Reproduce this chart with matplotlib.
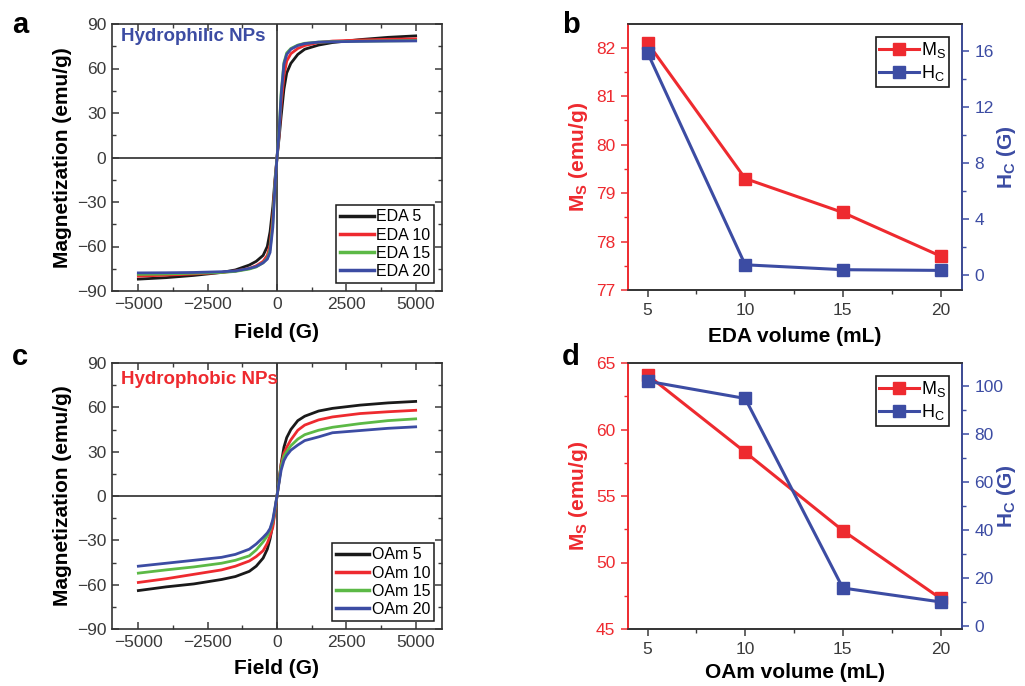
"""Magnetic hysteresis loops and Ms/Hc vs ligand volume (4-panel figure)."""
import matplotlib

matplotlib.use("Agg")
import matplotlib.pyplot as plt  # noqa: E402
from matplotlib.ticker import MultipleLocator  # noqa: E402

plt.rcParams.update({
    "font.family": ["Liberation Sans", "DejaVu Sans"],
    "mathtext.fontset": "custom",
    "mathtext.rm": "Liberation Sans",
    "mathtext.bf": "Liberation Sans:bold",
    "axes.linewidth": 1.2,
    "axes.edgecolor": "#333333",
})

_BLACK = "#1a1a1a"
_RED = "#ee2a2f"
_GREEN = "#5cb946"
_BLUE = "#3c4ca3"
_TICK = "#3a3a3a"

# ---- data: hysteresis loops (field in G, magnetization in emu/g) ----
field = [-5000, -4000, -3000, -2000, -1500, -1000, -750, -500, -350, -250,
         -150, -75, 0, 75, 150, 250, 350, 500, 750, 1000, 1500, 2000, 3000,
         4000, 5000]

eda_labels = ["EDA 5", "EDA 10", "EDA 15", "EDA 20"]
m_eda5 = [-82, -81, -79.5, -77.5, -75.8, -72.5, -70, -66, -60, -50, -33, -15,
          0, 13, 28, 46, 57, 63.5, 69.5, 73, 75.8, 77.5, 79.5, 81, 82]
m_eda10 = [-80, -79.3, -78.5, -77.5, -76.5, -74.8, -73, -70, -66, -59, -40,
           -17, 0, 15, 36, 55, 65, 70, 73.5, 75.5, 77.5, 78.5, 79.2, 79.7, 80]
m_eda15 = [-78.8, -78.5, -78, -77.5, -76.8, -75.2, -73.8, -71, -68, -62, -44,
           -18, 0, 18, 44, 64, 70.5, 73.5, 75.8, 77, 77.8, 78.1, 78.4, 78.6,
           78.8]
m_eda20 = [-77.8, -77.7, -77.5, -77, -76.5, -74.8, -73.5, -71, -68.5, -64,
           -47, -20, 0, 17, 42, 63, 69.5, 73, 75.5, 76.8, 77.8, 78, 78.3, 78.5,
           78.6]

oam_labels = ["OAm 5", "OAm 10", "OAm 15", "OAm 20"]
m_oam5 = [-64, -61.5, -59.5, -56.5, -54.5, -51, -47.5, -42, -36, -29, -19,
          -10, 0, 11, 22, 33, 39.5, 45, 51, 54, 57.5, 59.3, 61.5, 63, 64]
m_oam10 = [-58.5, -56, -53, -50, -47.5, -44, -41, -37, -32, -27, -21, -11, 0,
           10, 21.5, 29, 33, 38, 44.5, 48, 51.5, 53.5, 55.8, 57, 58]
m_oam15 = [-52.2, -50, -48, -45.5, -43.5, -40.5, -36.5, -31, -27, -23, -17,
           -9, 0, 10, 20, 27, 30, 34, 38.5, 41.5, 44.5, 46.5, 49, 51, 52.2]
m_oam20 = [-47.5, -45.5, -43.5, -41.5, -39.5, -36, -32.5, -28, -25, -22, -16,
           -8, 0, 9, 17.5, 24, 27.5, 31, 34.5, 37.5, 40, 42.8, 44.3, 45.8,
           46.8]

# ---- data: Ms / Hc vs volume ----
volume = [5, 10, 15, 20]
ms_eda = [82.1, 79.3, 78.6, 77.7]
hc_eda = [15.85, 0.7, 0.35, 0.3]
ms_oam = [64.1, 58.3, 52.4, 47.3]
hc_oam = [102, 94.8, 15.7, 9.9]

loop_colors = [_BLACK, _RED, _GREEN, _BLUE]

fig = plt.figure(figsize=(10.25, 6.86), dpi=100)
W, H = 1025, 686


def _box(left, top, right, bottom):
    return [left / W, 1 - bottom / H, (right - left) / W, (bottom - top) / H]


def _letter(x, y, s):
    # x = left edge, y = baseline, in pixels from top-left
    fig.text(x / W, 1 - y / H, s, fontsize=21, fontweight="bold",
             ha="left", va="baseline")


def _style_ticks(ax, direction="in", **kw):
    ax.tick_params(which="both", direction=direction, labelsize=12.5,
                   labelcolor=_TICK, color=_TICK, pad=4, **kw)
    ax.tick_params(which="major", length=5, width=1.1)
    ax.tick_params(which="minor", length=3, width=1.0)


def loop_panel(rect, curves, labels, title, title_color, xlabel_y, title_y):
    ax = fig.add_axes(_box(*rect))
    ax.axhline(0, color=_BLACK, lw=1.1, zorder=1)
    ax.axvline(0, color=_BLACK, lw=1.1, zorder=1)
    for m, lab, c in zip(curves, labels, loop_colors):
        ax.plot(field, m, color=c, lw=2.0, label=lab, zorder=2)
    ax.set_xlim(-5950, 5950)
    ax.set_ylim(-90, 90)
    ax.xaxis.set_major_locator(MultipleLocator(2500))
    ax.xaxis.set_minor_locator(MultipleLocator(1250))
    ax.yaxis.set_major_locator(MultipleLocator(30))
    ax.yaxis.set_minor_locator(MultipleLocator(15))
    ax.xaxis.set_major_formatter(lambda v, p: f"{v:.0f}".replace("-", "\u2212"))
    ax.yaxis.set_major_formatter(lambda v, p: f"{v:.0f}".replace("-", "\u2212"))
    _style_ticks(ax, top=True, right=True)
    ax.set_xlabel("Field (G)", fontsize=15, fontweight="bold")
    ax.set_ylabel("Magnetization (emu/g)", fontsize=15, fontweight="bold")
    ax.xaxis.set_label_coords(0.5, xlabel_y)
    ax.yaxis.set_label_coords(-0.121, 0.5)
    ax.text(0.026, title_y, title, transform=ax.transAxes, fontsize=13.5,
            fontweight="bold", color=title_color, ha="left", va="center")
    leg = ax.legend(loc="lower right", fontsize=11.5, frameon=True,
                    fancybox=False, edgecolor=_BLACK, framealpha=1,
                    handlelength=2.1, handletextpad=0.15, labelspacing=0.2,
                    borderpad=0.25, borderaxespad=0.5)
    leg.get_frame().set_linewidth(1.1)
    for h in leg.get_lines():
        h.set_linewidth(2.5)
    return ax


def param_panel(rect, ms, hc, ms_lim, ms_major, hc_lim, hc_major, xlabel,
                xlabel_y):
    ax = fig.add_axes(_box(*rect))
    ax2 = ax.twinx()
    l1, = ax.plot(volume, ms, "-s", color=_RED, lw=2.2, ms=8.5,
                  label=r"M$_\mathregular{S}$", zorder=3)
    l2, = ax2.plot(volume, hc, "-s", color=_BLUE, lw=2.2, ms=8.5,
                   label=r"H$_\mathregular{C}$", zorder=3)
    ax.set_xlim(4.0, 21.1)
    ax.set_ylim(*ms_lim)
    ax2.set_ylim(*hc_lim)
    ax.xaxis.set_major_locator(MultipleLocator(5))
    ax.xaxis.set_minor_locator(MultipleLocator(2.5))
    ax.yaxis.set_major_locator(MultipleLocator(ms_major))
    ax.yaxis.set_minor_locator(MultipleLocator(ms_major / 2))
    ax2.yaxis.set_major_locator(MultipleLocator(hc_major))
    ax2.yaxis.set_minor_locator(MultipleLocator(hc_major / 2))
    _style_ticks(ax, direction="out")
    ax.tick_params(axis="y", which="both", color=_RED, labelcolor=_RED)
    ax2.tick_params(which="both", direction="out", labelsize=12.5, pad=4,
                    color=_BLUE, labelcolor=_BLUE)
    ax2.tick_params(which="major", length=5, width=1.1)
    ax2.tick_params(which="minor", length=3, width=1.0)
    ax.spines["left"].set_color(_RED)
    ax2.spines["left"].set_color(_RED)
    ax2.spines["right"].set_color(_BLUE)
    ax.set_xlabel(xlabel, fontsize=15, fontweight="bold")
    ax.xaxis.set_label_coords(0.5, xlabel_y)
    ax.set_ylabel(r"M$_\mathbf{S}$ (emu/g)", fontsize=15, fontweight="bold",
                  color=_RED)
    ax.yaxis.set_label_coords(-0.114, 0.5)
    ax2.set_ylabel(r"H$_\mathbf{C}$ (G)", fontsize=15, fontweight="bold",
                   color=_BLUE, rotation=90)
    ax2.yaxis.set_label_coords(1.098, 0.5)
    leg = ax2.legend([l1, l2], [l1.get_label(), l2.get_label()],
                     loc="upper right", fontsize=13, frameon=True,
                     fancybox=False, edgecolor=_BLACK, framealpha=1,
                     handlelength=2.2, handletextpad=0.1, labelspacing=0.15,
                     borderpad=0.2, borderaxespad=0.7)
    leg.get_frame().set_linewidth(1.2)
    return ax, ax2


loop_panel((112, 24, 442, 291), [m_eda5, m_eda10, m_eda15, m_eda20],
           eda_labels, "Hydrophilic NPs", _BLUE, -0.12, 0.952)
loop_panel((112, 363, 442, 629), [m_oam5, m_oam10, m_oam15, m_oam20],
           oam_labels, "Hydrophobic NPs", _RED, -0.113, 0.938)
param_panel((628, 24, 962, 290), ms_eda, hc_eda, (77, 82.49), 1,
            (-1.1, 17.9), 4, "EDA volume (mL)", -0.138)
param_panel((628, 363, 962, 629), ms_oam, hc_oam, (45, 65), 5,
            (-1.4, 109.6), 20, "OAm volume (mL)", -0.128)

_letter(12, 33, "a")
_letter(562, 33, "b")
_letter(12, 365, "c")
_letter(562, 365, "d")

fig.savefig("out.png", dpi=100)
